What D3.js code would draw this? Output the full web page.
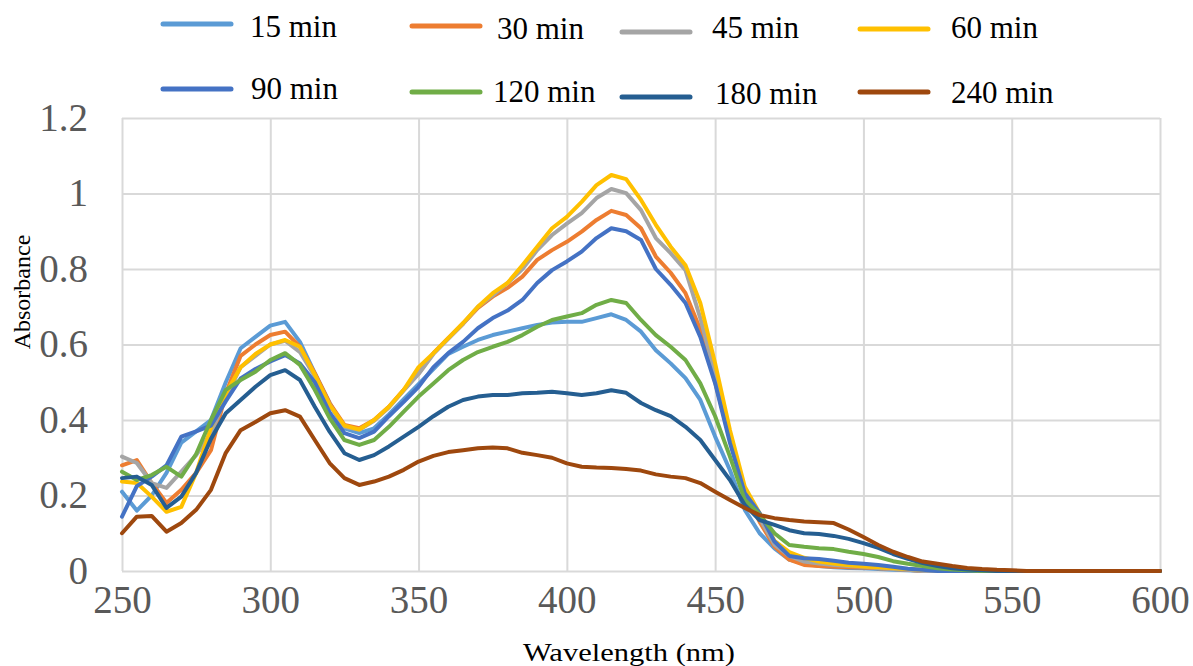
<!DOCTYPE html>
<html>
<head>
<meta charset="utf-8">
<script src="https://cdn.jsdelivr.net/npm/d3@7"></script>
<style>
  body { margin: 0; background: #fff; }
  svg { display: block; }
  .grid line { stroke: #d9d9d9; stroke-width: 2; }
  .tick text { font-family: "Liberation Serif", "Times New Roman", serif; fill: #595959; }
</style>
</head>
<body>
<svg id="chart" width="1193" height="666"></svg>
<script>
// wavelength axis (nm), one reading every 5 nm
var wavelengths = d3.range(250, 601, 5)
var xTicks = [250, 300, 350, 400, 450, 500, 550, 600]
var yTicks = [0, 0.2, 0.4, 0.6, 0.8, 1, 1.2]

var seriesNames = ['15 min', '30 min', '45 min', '60 min', '90 min', '120 min', '180 min', '240 min']
var seriesColors = ['#5b9bd5', '#ed7d31', '#a5a5a5', '#ffc000', '#4472c4', '#70ad47', '#255e91', '#9e480e']

// absorbance values, 250..600 nm
var abs15 = [
  0.21, 0.16, 0.20, 0.26, 0.34, 0.37, 0.40, 0.50, 0.59, 0.62,
  0.65, 0.66, 0.607, 0.524, 0.445, 0.378, 0.365, 0.378, 0.415, 0.455,
  0.495, 0.535, 0.575, 0.594, 0.612, 0.625, 0.634, 0.643, 0.652, 0.658,
  0.66, 0.66, 0.67, 0.68, 0.665, 0.634, 0.585, 0.55, 0.511, 0.453,
  0.356, 0.267, 0.162, 0.10, 0.06, 0.03, 0.02, 0.013, 0.01, 0.008,
  0.007, 0.005, 0.003, 0.002, 0, 0, 0, 0, 0, 0,
  0, 0, 0, 0, 0, 0, 0, 0, 0, 0, 0]
var abs30 = [
  0.28, 0.294, 0.233, 0.18, 0.215, 0.26, 0.32, 0.47, 0.57, 0.60,
  0.625, 0.634, 0.594, 0.524, 0.445, 0.387, 0.378, 0.40, 0.435, 0.48,
  0.524, 0.577, 0.617, 0.655, 0.697, 0.727, 0.75, 0.78, 0.824, 0.85,
  0.872, 0.899, 0.93, 0.954, 0.943, 0.908, 0.833, 0.79, 0.736, 0.64,
  0.50, 0.35, 0.21, 0.13, 0.065, 0.03, 0.016, 0.013, 0.011, 0.01,
  0.009, 0.007, 0.005, 0.003, 0, 0, 0, 0, 0, 0,
  0, 0, 0, 0, 0, 0, 0, 0, 0, 0, 0]
var abs45 = [
  0.303, 0.286, 0.233, 0.22, 0.263, 0.307, 0.365, 0.46, 0.54, 0.57,
  0.60, 0.61, 0.58, 0.515, 0.44, 0.382, 0.374, 0.398, 0.433, 0.478,
  0.522, 0.575, 0.615, 0.655, 0.70, 0.73, 0.763, 0.80, 0.85, 0.89,
  0.92, 0.948, 0.988, 1.012, 1.001, 0.956, 0.882, 0.842, 0.797, 0.67,
  0.52, 0.36, 0.215, 0.14, 0.07, 0.04, 0.025, 0.02, 0.016, 0.013,
  0.011, 0.008, 0.005, 0.003, 0, 0, 0, 0, 0, 0,
  0, 0, 0, 0, 0, 0, 0, 0, 0, 0, 0]
var abs60 = [
  0.237, 0.233, 0.197, 0.157, 0.17, 0.26, 0.38, 0.47, 0.54, 0.575,
  0.60, 0.612, 0.594, 0.52, 0.44, 0.385, 0.375, 0.40, 0.435, 0.48,
  0.54, 0.577, 0.617, 0.657, 0.70, 0.736, 0.763, 0.81, 0.859, 0.908,
  0.938, 0.978, 1.022, 1.049, 1.038, 0.983, 0.917, 0.859, 0.81, 0.71,
  0.55, 0.373, 0.223, 0.153, 0.08, 0.05, 0.035, 0.025, 0.02, 0.015,
  0.012, 0.01, 0.007, 0.005, 0.003, 0.002, 0.001, 0, 0, 0,
  0, 0, 0, 0, 0, 0, 0, 0, 0, 0, 0]
var abs90 = [
  0.144, 0.225, 0.25, 0.28, 0.356, 0.37, 0.385, 0.45, 0.51, 0.535,
  0.555, 0.572, 0.55, 0.50, 0.42, 0.365, 0.352, 0.369, 0.41, 0.448,
  0.488, 0.54, 0.577, 0.607, 0.643, 0.67, 0.69, 0.718, 0.763, 0.797,
  0.82, 0.846, 0.882, 0.908, 0.90, 0.877, 0.80, 0.758, 0.71, 0.62,
  0.497, 0.339, 0.206, 0.153, 0.078, 0.04, 0.034, 0.032, 0.027, 0.022,
  0.019, 0.016, 0.011, 0.006, 0.003, 0, 0, 0, 0, 0,
  0, 0, 0, 0, 0, 0, 0, 0, 0, 0, 0]
var abs120 = [
  0.263, 0.241, 0.254, 0.276, 0.25, 0.31, 0.40, 0.48, 0.506, 0.528,
  0.559, 0.577, 0.546, 0.48, 0.405, 0.347, 0.334, 0.347, 0.382, 0.422,
  0.462, 0.497, 0.532, 0.559, 0.58, 0.594, 0.607, 0.625, 0.647, 0.665,
  0.674, 0.683, 0.705, 0.718, 0.71, 0.665, 0.625, 0.594, 0.559, 0.497,
  0.41, 0.303, 0.188, 0.15, 0.10, 0.069, 0.064, 0.06, 0.058, 0.051,
  0.045, 0.037, 0.026, 0.019, 0.013, 0.007, 0.004, 0.002, 0, 0,
  0, 0, 0, 0, 0, 0, 0, 0, 0, 0, 0]
var abs180 = [
  0.246, 0.25, 0.228, 0.167, 0.197, 0.26, 0.35, 0.418, 0.453, 0.488,
  0.519, 0.532, 0.506, 0.435, 0.369, 0.312, 0.294, 0.307, 0.33, 0.356,
  0.382, 0.41, 0.435, 0.453, 0.462, 0.466, 0.466, 0.471, 0.472, 0.475,
  0.471, 0.466, 0.471, 0.479, 0.472, 0.445, 0.426, 0.41, 0.382, 0.347,
  0.294, 0.241, 0.175, 0.135, 0.122, 0.108, 0.10, 0.098, 0.093, 0.085,
  0.074, 0.061, 0.045, 0.032, 0.021, 0.013, 0.007, 0.004, 0.002, 0,
  0, 0, 0, 0, 0, 0, 0, 0, 0, 0, 0]
var abs240 = [
  0.10, 0.144, 0.146, 0.104, 0.127, 0.162, 0.215, 0.313, 0.373, 0.395,
  0.418, 0.426, 0.409, 0.347, 0.286, 0.246, 0.228, 0.237, 0.25, 0.268,
  0.29, 0.305, 0.315, 0.32, 0.325, 0.327, 0.325, 0.313, 0.307, 0.30,
  0.285, 0.276, 0.274, 0.273, 0.27, 0.266, 0.256, 0.25, 0.246, 0.233,
  0.21, 0.188, 0.167, 0.148, 0.14, 0.135, 0.131, 0.129, 0.127, 0.11,
  0.09, 0.069, 0.051, 0.037, 0.025, 0.019, 0.013, 0.008, 0.005, 0.003,
  0.002, 0, 0, 0, 0, 0, 0, 0, 0, 0, 0]

var seriesValues = [abs15, abs30, abs45, abs60, abs90, abs120, abs180, abs240]

// legend layout: [lineX, lineY, textX, textBaseline] per entry (Excel put them a bit unevenly)
var legendSlots = [
  [163, 24, 250, 37], [412, 26, 497, 39], [622, 32, 712, 38], [860, 29, 951, 38],
  [163, 89, 251, 99], [412, 92, 493, 102], [622, 97, 715, 104], [860, 92, 951, 103]
]

var svg = d3.select('#chart')
var plot = { left: 122, right: 1160, top: 118, bottom: 571 }

var x = d3.scaleLinear().domain([250, 600]).range([plot.left, plot.right])
var y = d3.scaleLinear().domain([0, 1.2]).range([plot.bottom, plot.top])

// horizontal grid + y tick labels
var yAxis = svg.append('g')
  .attr('class', 'grid')
  .attr('transform', 'translate(' + plot.left + ',0)')
  .call(d3.axisLeft(y)
    .tickValues(yTicks)
    .tickSize(-(plot.right - plot.left))
    .tickPadding(34)
    .tickFormat(d => String(+d.toFixed(1))))
yAxis.select('.domain').remove()
yAxis.selectAll('text').style('font-size', '39px')

// vertical grid + x tick labels
var xAxis = svg.append('g')
  .attr('class', 'grid')
  .attr('transform', 'translate(0,' + plot.bottom + ')')
  .call(d3.axisBottom(x)
    .tickValues(xTicks)
    .tickSize(-(plot.bottom - plot.top))
    .tickPadding(14)
    .tickFormat(d3.format('d')))
xAxis.select('.domain').remove()
xAxis.selectAll('text').style('font-size', '39px')

var line = d3.line()
  .x((d, i) => x(wavelengths[i]))
  .y(d => y(d))

svg.append('g')
  .selectAll('path')
  .data(seriesValues)
  .join('path')
  .attr('d', line)
  .attr('fill', 'none')
  .attr('stroke', (d, i) => seriesColors[i])
  .attr('stroke-width', 4)
  .attr('stroke-linejoin', 'round')
  .attr('stroke-linecap', 'round')

// axis titles (the x title is drawn wider in the original)
svg.append('text')
  .attr('x', 629)
  .attr('y', 661)
  .attr('text-anchor', 'middle')
  .attr('textLength', 212)
  .attr('lengthAdjust', 'spacingAndGlyphs')
  .style('font-family', '"Liberation Serif", "Times New Roman", serif')
  .style('font-size', '25px')
  .text('Wavelength (nm)')

svg.append('text')
  .attr('transform', 'translate(30,292) rotate(-90)')
  .attr('text-anchor', 'middle')
  .style('font-family', '"Liberation Serif", "Times New Roman", serif')
  .style('font-size', '24px')
  .text('Absorbance')

// legend
var legend = svg.append('g')
  .selectAll('g')
  .data(seriesNames)
  .join('g')

legend.append('line')
  .attr('x1', (d, i) => legendSlots[i][0])
  .attr('x2', (d, i) => legendSlots[i][0] + 68)
  .attr('y1', (d, i) => legendSlots[i][1])
  .attr('y2', (d, i) => legendSlots[i][1])
  .attr('stroke', (d, i) => seriesColors[i])
  .attr('stroke-width', 5)
  .attr('stroke-linecap', 'round')

legend.append('text')
  .attr('x', (d, i) => legendSlots[i][2])
  .attr('y', (d, i) => legendSlots[i][3])
  .style('font-family', '"Liberation Serif", "Times New Roman", serif')
  .style('font-size', '31px')
  .style('fill', '#000')
  .text(d => d)
</script>
</body>
</html>
